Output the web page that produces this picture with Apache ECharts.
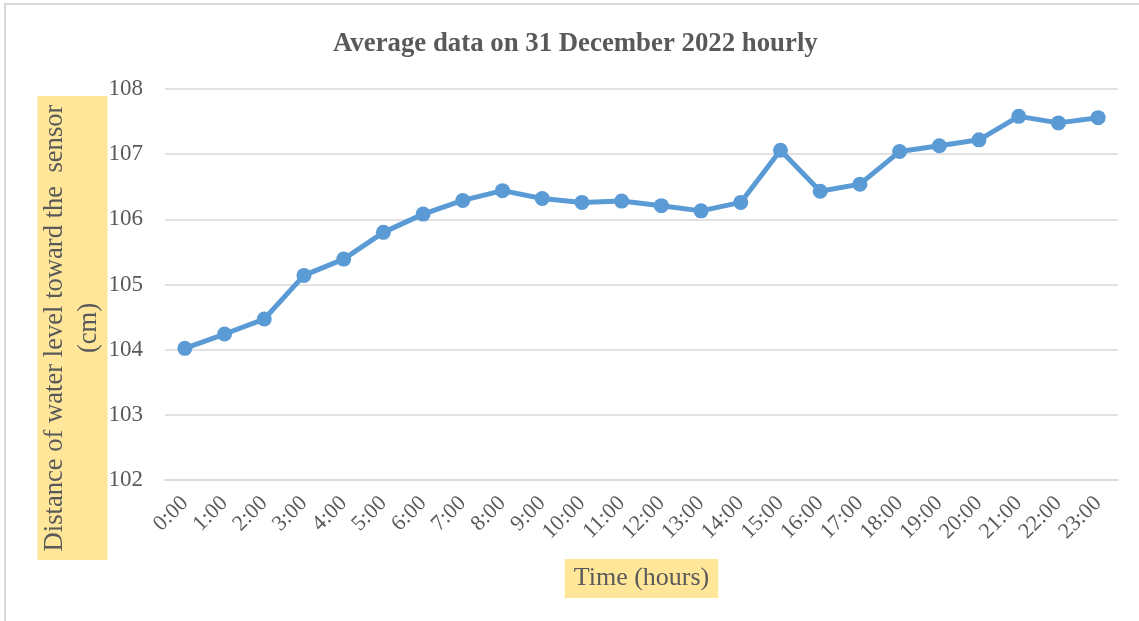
<!DOCTYPE html>
<html>
<head>
<meta charset="utf-8">
<script src="https://cdn.jsdelivr.net/npm/echarts@6/dist/echarts.min.js"></script>
<style>
html,body{margin:0;padding:0;background:#fff;}
#chart{width:1139px;height:621px;}
</style>
</head>
<body>
<div id="chart"></div>
<script>
const titleText = 'Average data on 31 December 2022 hourly';
const categories = ['0:00','1:00','2:00','3:00','4:00','5:00','6:00','7:00','8:00','9:00','10:00','11:00','12:00','13:00','14:00','15:00','16:00','17:00','18:00','19:00','20:00','21:00','22:00','23:00'];
const waterLevel = [104.02,104.24,104.47,105.14,105.39,105.80,106.08,106.29,106.44,106.32,106.26,106.28,106.21,106.13,106.26,107.06,106.43,106.54,107.04,107.13,107.22,107.58,107.48,107.56];
const yName = 'Distance of water level toward the  sensor\n(cm)';
const xName = 'Time (hours)';

const serif = '"Liberation Serif", "Times New Roman", serif';
const chart = echarts.init(document.getElementById('chart'));
chart.setOption({
  backgroundColor: '#fff',
  animation: false,
  graphic: [{
    type: 'rect',
    shape: {x: 5, y: 4, width: 1300, height: 800},
    style: {fill: 'none', stroke: '#d9d9d9', lineWidth: 2},
    silent: true
  }, {
    type: 'text',
    x: 72.5,
    y: 328,
    rotation: Math.PI / 2,
    silent: true,
    style: {
      text: yName,
      font: '26.6px ' + serif,
      fill: '#595959',
      align: 'center',
      verticalAlign: 'middle',
      lineHeight: 34,
      width: 448,
      backgroundColor: '#FFE699',
      padding: [1, 8, 1, 8]
    }
  }],
  title: {
    text: titleText,
    left: 328,
    top: 26,
    textStyle: {fontFamily: serif, fontWeight: 'bold', fontSize: 26.8, color: '#595959'}
  },
  grid: {left: 165, right: 21, top: 89, bottom: 141},
  xAxis: {
    type: 'category',
    data: categories,
    boundaryGap: true,
    axisLine: {lineStyle: {color: '#d9d9d9', width: 1.5}},
    axisTick: {show: false},
    axisLabel: {rotate: 45, fontFamily: serif, fontSize: 22, color: '#595959', margin: 20, interval: 0},
    name: xName,
    nameLocation: 'middle',
    nameGap: 79,
    nameTextStyle: {
      fontFamily: serif, fontSize: 26, color: '#595959', lineHeight: 27,
      backgroundColor: '#FFE699', padding: [6, 9, 6, 9]
    }
  },
  yAxis: {
    type: 'value',
    min: 102, max: 108, interval: 1,
    axisLine: {show: false},
    axisTick: {show: false},
    splitLine: {lineStyle: {color: '#d9d9d9', width: 1.5}},
    axisLabel: {fontFamily: serif, fontSize: 23, color: '#595959', margin: 22}
  },
  series: [{
    type: 'line',
    data: waterLevel,
    symbol: 'circle',
    symbolSize: 15,
    lineStyle: {color: '#5B9BD5', width: 5},
    itemStyle: {color: '#5B9BD5'}
  }]
});
</script>
</body>
</html>
